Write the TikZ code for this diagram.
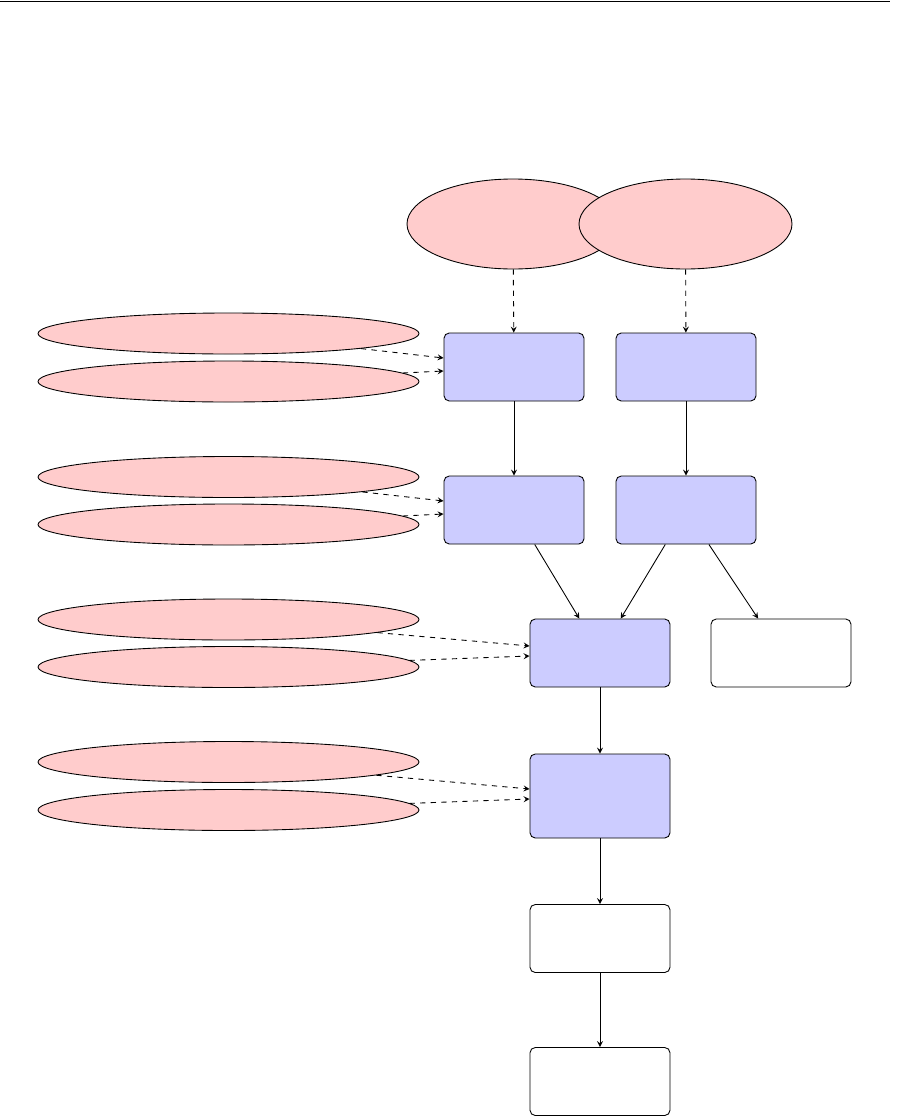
\documentclass[tikz,border=0pt]{standalone}
\usetikzlibrary{shapes.geometric,arrows}

\tikzset{
  stage/.style={draw, rounded corners=3pt, fill=blue!20, minimum width=2.8cm, minimum height=1.36cm, inner sep=0pt},
  result/.style={draw, rounded corners=3pt, fill=white, minimum width=2.8cm, minimum height=1.36cm, inner sep=0pt},
  source/.style={draw, ellipse, fill=red!20, minimum width=4.24cm, minimum height=1.8cm, inner sep=0pt},
  param/.style={draw, ellipse, fill=red!20, minimum width=7.62cm, minimum height=0.82cm, inner sep=0pt},
  feed/.style={->, dashed},
  flow/.style={->}
}

\begin{document}
\begin{tikzpicture}[scale=1.0, >=stealth, line width=0.5pt]
  \useasboundingbox (0,0) rectangle (18,-22.34);
  % rule
  \draw (0,-0.02) -- (17.8,-0.02);
  % sources
  \node[source] (srcA) at (10.26,-4.48) {};
  \node[source, minimum width=4.26cm] (srcB) at (13.71,-4.48) {};
  % stages
  \node[stage] (a1) at (10.28,-7.34) {};
  \node[stage] (b1) at (13.72,-7.34) {};
  \node[stage] (a2) at (10.28,-10.2) {};
  \node[stage] (b2) at (13.72,-10.2) {};
  \node[stage] (merge) at (12.0,-13.06) {};
  \node[result] (side) at (15.62,-13.06) {};
  \node[stage, minimum height=1.68cm] (last) at (12.0,-15.92) {};
  \node[result] (out1) at (12.0,-18.77) {};
  \node[result] (out2) at (12.0,-21.63) {};
  % parameters
  \node[param] (p1) at (4.57,-6.67) {};
  \node[param] (p2) at (4.57,-7.63) {};
  \node[param] (p3) at (4.57,-9.54) {};
  \node[param] (p4) at (4.57,-10.49) {};
  \node[param] (p5) at (4.57,-12.39) {};
  \node[param] (p6) at (4.57,-13.34) {};
  \node[param] (p7) at (4.57,-15.24) {};
  \node[param] (p8) at (4.57,-16.2) {};
  % dashed inputs
  \draw[feed] (srcA) -- (a1);
  \draw[feed] (srcB) -- (b1);
  \draw[feed] (p1) -- ([yshift=0.18cm]a1.west);
  \draw[feed] (p2) -- ([yshift=-0.08cm]a1.west);
  \draw[feed] (p3) -- ([yshift=0.18cm]a2.west);
  \draw[feed] (p4) -- ([yshift=-0.08cm]a2.west);
  \draw[feed] (p5) -- ([yshift=0.14cm]merge.west);
  \draw[feed] (p6) -- ([yshift=-0.06cm]merge.west);
  \draw[feed] (p7) -- ([yshift=0.14cm]last.west);
  \draw[feed] (p8) -- ([yshift=-0.06cm]last.west);
  % main flow
  \draw[flow] (a1) -- (a2);
  \draw[flow] (b1) -- (b2);
  \draw[flow] (a2) -- (merge);
  \draw[flow] (b2) -- (merge);
  \draw[flow] (b2) -- (side);
  \draw[flow] (merge) -- (last);
  \draw[flow] (last) -- (out1);
  \draw[flow] (out1) -- (out2);
\end{tikzpicture}
\end{document}
